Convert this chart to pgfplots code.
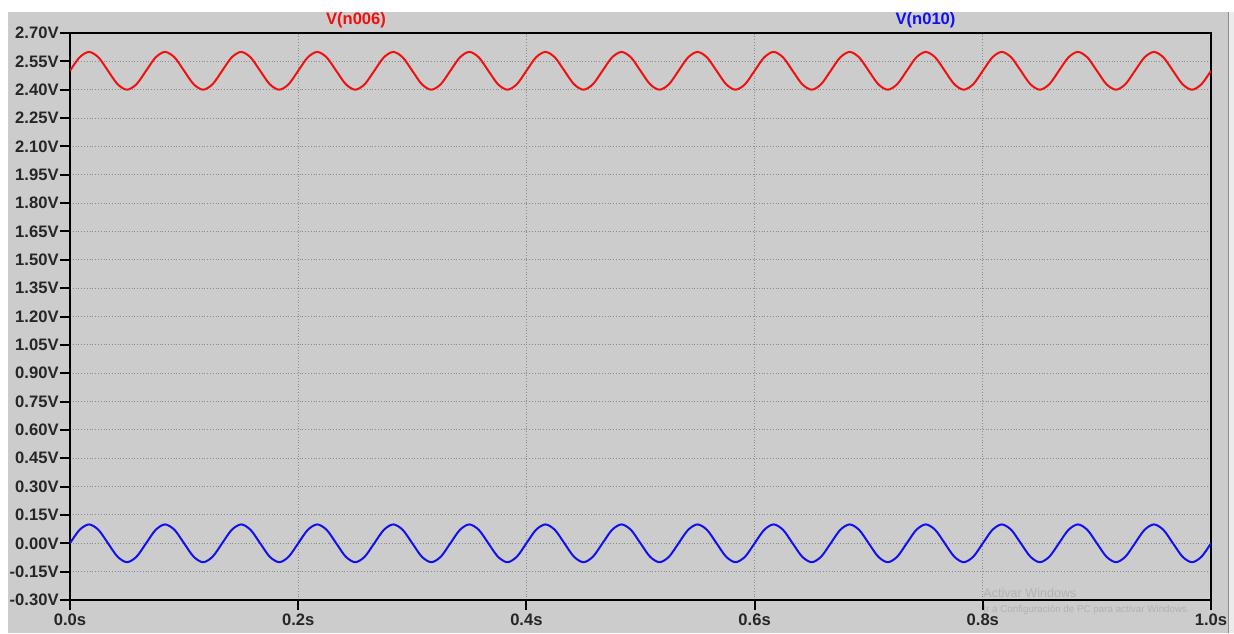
\documentclass[border=0pt]{standalone}
\usepackage{fontspec}
\setmainfont{Liberation Sans}
\usepackage{pgfplots}
\pgfplotsset{compat=1.18}
\usepackage{pgfplotstable}
\definecolor{panel}{HTML}{CCCCCC}
\definecolor{gridc}{HTML}{8C8C8C}
\definecolor{sigred}{HTML}{F01010}
\definecolor{sigblue}{HTML}{1010F0}
\definecolor{wm}{HTML}{B2B2B2}

\pgfplotstableread{
t blue red
0 0 2.5
0.00833 0.0707 2.5707
0.01667 0.1 2.6
0.025 0.0707 2.5707
0.03333 0 2.5
0.04167 -0.0707 2.4293
0.05 -0.1 2.4
0.05833 -0.0707 2.4293
0.06667 0 2.5
0.075 0.0707 2.5707
0.08333 0.1 2.6
0.09167 0.0707 2.5707
0.1 0 2.5
0.10833 -0.0707 2.4293
0.11667 -0.1 2.4
0.125 -0.0707 2.4293
0.13333 0 2.5
0.14167 0.0707 2.5707
0.15 0.1 2.6
0.15833 0.0707 2.5707
0.16667 0 2.5
0.175 -0.0707 2.4293
0.18333 -0.1 2.4
0.19167 -0.0707 2.4293
0.2 0 2.5
0.20833 0.0707 2.5707
0.21667 0.1 2.6
0.225 0.0707 2.5707
0.23333 0 2.5
0.24167 -0.0707 2.4293
0.25 -0.1 2.4
0.25833 -0.0707 2.4293
0.26667 0 2.5
0.275 0.0707 2.5707
0.28333 0.1 2.6
0.29167 0.0707 2.5707
0.3 0 2.5
0.30833 -0.0707 2.4293
0.31667 -0.1 2.4
0.325 -0.0707 2.4293
0.33333 0 2.5
0.34167 0.0707 2.5707
0.35 0.1 2.6
0.35833 0.0707 2.5707
0.36667 0 2.5
0.375 -0.0707 2.4293
0.38333 -0.1 2.4
0.39167 -0.0707 2.4293
0.4 0 2.5
0.40833 0.0707 2.5707
0.41667 0.1 2.6
0.425 0.0707 2.5707
0.43333 0 2.5
0.44167 -0.0707 2.4293
0.45 -0.1 2.4
0.45833 -0.0707 2.4293
0.46667 0 2.5
0.475 0.0707 2.5707
0.48333 0.1 2.6
0.49167 0.0707 2.5707
0.5 0 2.5
0.50833 -0.0707 2.4293
0.51667 -0.1 2.4
0.525 -0.0707 2.4293
0.53333 0 2.5
0.54167 0.0707 2.5707
0.55 0.1 2.6
0.55833 0.0707 2.5707
0.56667 0 2.5
0.575 -0.0707 2.4293
0.58333 -0.1 2.4
0.59167 -0.0707 2.4293
0.6 0 2.5
0.60833 0.0707 2.5707
0.61667 0.1 2.6
0.625 0.0707 2.5707
0.63333 0 2.5
0.64167 -0.0707 2.4293
0.65 -0.1 2.4
0.65833 -0.0707 2.4293
0.66667 0 2.5
0.675 0.0707 2.5707
0.68333 0.1 2.6
0.69167 0.0707 2.5707
0.7 0 2.5
0.70833 -0.0707 2.4293
0.71667 -0.1 2.4
0.725 -0.0707 2.4293
0.73333 0 2.5
0.74167 0.0707 2.5707
0.75 0.1 2.6
0.75833 0.0707 2.5707
0.76667 0 2.5
0.775 -0.0707 2.4293
0.78333 -0.1 2.4
0.79167 -0.0707 2.4293
0.8 0 2.5
0.80833 0.0707 2.5707
0.81667 0.1 2.6
0.825 0.0707 2.5707
0.83333 0 2.5
0.84167 -0.0707 2.4293
0.85 -0.1 2.4
0.85833 -0.0707 2.4293
0.86667 0 2.5
0.875 0.0707 2.5707
0.88333 0.1 2.6
0.89167 0.0707 2.5707
0.9 0 2.5
0.90833 -0.0707 2.4293
0.91667 -0.1 2.4
0.925 -0.0707 2.4293
0.93333 0 2.5
0.94167 0.0707 2.5707
0.95 0.1 2.6
0.95833 0.0707 2.5707
0.96667 0 2.5
0.975 -0.0707 2.4293
0.98333 -0.1 2.4
0.99167 -0.0707 2.4293
1.0 0 2.5
}\sig

\begin{document}
\begin{tikzpicture}
\fill[white] (0,0) rectangle (617pt,316.5pt);
\fill[panel] (4pt,0) rectangle (614pt,310.5pt);
\fill[black!8] (614pt,0) rectangle (617pt,310.5pt);
\draw[black!45,line width=0.4pt] (614pt,0) -- (614pt,310.5pt);
\begin{axis}[
  at={(35pt,16.5pt)}, anchor=south west,
  scale only axis, width=570.5pt, height=283.5pt,
  xmin=0, xmax=1, ymin=-0.3, ymax=2.7,
  axis background/.style={fill=panel},
  axis line style={black, line width=1pt},
  xtick={0,0.2,0.4,0.6,0.8,1},
  xticklabels={0.0s,0.2s,0.4s,0.6s,0.8s,1.0s},
  ytick={-0.3,-0.15,0,0.15,0.3,0.45,0.6,0.75,0.9,1.05,1.2,1.35,1.5,1.65,1.8,1.95,2.1,2.25,2.4,2.55,2.7},
  yticklabels={-0.30V,-0.15V,0.00V,0.15V,0.30V,0.45V,0.60V,0.75V,0.90V,1.05V,1.20V,1.35V,1.50V,1.65V,1.80V,1.95V,2.10V,2.25V,2.40V,2.55V,2.70V},
  xtick pos=bottom, ytick pos=left,
  tick align=outside,
  major tick length=5pt,
  tick style={black, line width=1pt},
  grid=major,
  major grid style={gridc, densely dotted, line width=0.5pt},
  /pgf/number format/assume math mode=true,
  ticklabel style={font=\fontsize{8.3}{9}\selectfont\bfseries, text=black!85},
  yticklabel style={inner sep=0.5pt},
  xticklabel style={inner sep=1.5pt},
  clip=true,
]
\addplot[sigred, line width=1pt, smooth] table[x=t,y=red]{\sig};
\addplot[sigblue, line width=1pt, smooth] table[x=t,y=blue]{\sig};
\end{axis}
\node[text=sigred, font=\fontsize{8.3}{9}\selectfont\bfseries] at (178pt,306.5pt) {V(n006)};
\node[text=sigblue, font=\fontsize{8.3}{9}\selectfont\bfseries] at (462.75pt,306.5pt) {V(n010)};
\node[anchor=west, text=wm, font=\fontsize{6.3}{7}\selectfont, inner sep=0pt] at (491.5pt,19.8pt) {Activar Windows};
\node[anchor=west, text=wm, font=\fontsize{4.9}{5.5}\selectfont, inner sep=0pt] at (491.5pt,11.5pt) {Ir a Configuración de PC para activar Windows.};
\end{tikzpicture}
\end{document}
